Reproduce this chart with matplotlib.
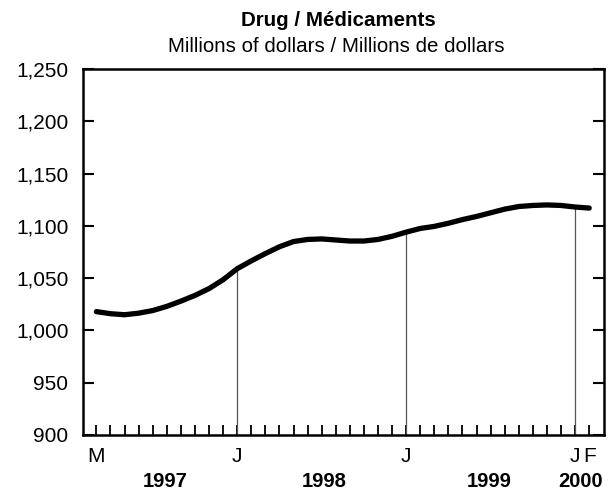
import numpy as np
import matplotlib.pyplot as plt
from matplotlib.ticker import FuncFormatter
import matplotlib.transforms as mtransforms

plt.rcParams['font.family'] = ['Liberation Sans', 'DejaVu Sans']

# monthly values, March 1997 .. February 2000
values = [1018, 1016, 1015, 1016.5, 1019, 1023, 1028, 1033.5, 1040, 1048.5,
          1059, 1066.5, 1073.5, 1080, 1085, 1087, 1087.5, 1086.5, 1085.5, 1085.5,
          1087, 1090, 1094, 1097.5, 1099.5, 1102.5, 1106, 1109, 1112.5, 1116,
          1118.5, 1119.5, 1120, 1119.5, 1118, 1117]
month_labels = {0: 'M', 10: 'J', 22: 'J', 34: 'J', 35: 'F'}
year_labels = ['1997', '1998', '1999', '2000']
year_pos = [4.9, 16.2, 27.9, 34.4]
jan_idx = [10, 22, 34]

x = np.arange(len(values))
y = np.array(values)

fig = plt.figure(figsize=(6.16, 4.91), dpi=100)
ax = fig.add_axes([83/616, 1-435/491, (604-83)/616, (435-69)/491])

ax.plot(x, y, color='black', lw=3.8, solid_capstyle='round', solid_joinstyle='round', zorder=3)
ax.vlines(jan_idx, 900, y[jan_idx], color='#555555', lw=0.9, zorder=2)

ax.set_xlim(-0.95, 36.05)
ax.set_ylim(900, 1250)
ax.set_yticks(np.arange(900, 1251, 50))
ax.yaxis.set_major_formatter(FuncFormatter(lambda v, p: f'{int(v):,}'))
ax.set_xticks(x)
ax.set_xticklabels([month_labels.get(i, '') for i in x])

ax.tick_params(axis='y', direction='in', length=8, width=1.5, right=True, labelsize=15, pad=10.5)
ax.tick_params(axis='x', direction='in', length=7, width=1.3, labelsize=15, pad=9)
for s in ax.spines.values():
    s.set_linewidth(1.8)

trans = mtransforms.blended_transform_factory(ax.transData, fig.transFigure)
for lab, pos in zip(year_labels, year_pos):
    ax.text(pos, 1-487/491, lab, transform=trans, ha='center', va='baseline',
            fontsize=14.5, fontweight='bold')

fig.text(338/616, 1-26/491, 'Drug / Médicaments', ha='center', va='baseline',
         fontsize=14.8, fontweight='bold')
fig.text(336/616, 1-52/491, 'Millions of dollars / Millions de dollars',
         ha='center', va='baseline', fontsize=14.8)

fig.savefig('out.png', dpi=100)
